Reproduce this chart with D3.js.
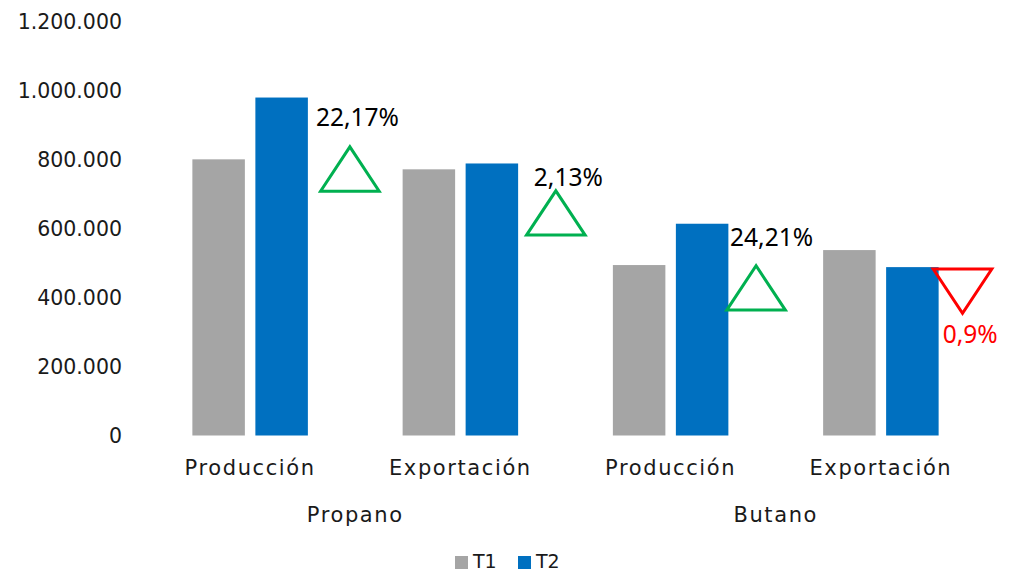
<!DOCTYPE html>
<html>
<head>
<meta charset="utf-8">
<script src="https://cdn.jsdelivr.net/npm/d3@7/dist/d3.min.js"></script>
<style>
  html, body { margin: 0; padding: 0; background: #fff; }
  svg text { font-family: "DejaVu Sans", sans-serif; fill: #1a1a1a; }
  .pct { font-family: "Noto Sans", "Open Sans", sans-serif; }
</style>
</head>
<body>
<svg id="chart" width="1017" height="573"></svg>
<script>
// ── Data ──────────────────────────────────────────────────────────────────────
const groups     = ['Propano', 'Butano'];
const metrics    = ['Producción', 'Exportación'];
const series     = ['T1', 'T2'];
const t1Values   = [802000, 773000, 495000, 538500];
const t2Values   = [981500, 790000, 615000, 489000];
const yTicks     = [0, 200000, 400000, 600000, 800000, 1000000, 1200000];

// change markers (hand-placed shapes in the original)
const changeText  = ['22,17%', '2,13%', '24,21%', '0,9%'];
const changeUp    = [true, true, true, false];
const markerLevel = [709700, 582000, 364300, 483300];   // triangle base value
const labelLevel  = [925400, 753300, 577100, 296700];   // label centre value

// ── Config ────────────────────────────────────────────────────────────────────
const COLORS   = { T1: '#A5A5A5', T2: '#0070C0' };
const UP_COL   = '#00B050';
const DOWN_COL = '#FF0000';
const TRI_W    = 58.6;
const TRI_H    = 44.3;
const MARK_DX  = [12.7, 8.4, -1.6, -5.4];   // triangle nudge from T2 bar edge
const LABEL_DX = [-4.7, 7.3, 3.3, 9.4];     // label nudge from triangle edge

const svg = d3.select('#chart');

// categories = group × metric
const cats = [];
groups.forEach(g => metrics.forEach(m => cats.push({ key: g + '|' + m, group: g, metric: m })));
cats.forEach((c, i) => { c.T1 = t1Values[i]; c.T2 = t2Values[i]; });

// ── Scales ────────────────────────────────────────────────────────────────────
const x0 = d3.scaleBand().domain(cats.map(c => c.key)).range([145, 986]);
const bw0 = x0.bandwidth();
const x1 = d3.scaleBand().domain(series)
  .range([bw0 / 2 - 57.75, bw0 / 2 + 57.75])
  .paddingInner(0.1667);
const y = d3.scaleLinear().domain([0, 1200000]).range([435.5, 22.3]);

const fmt = d3.formatLocale({ decimal: ',', thousands: '.', grouping: [3], currency: ['', ''] }).format(',d');

// ── Y axis labels ─────────────────────────────────────────────────────────────
svg.append('g').selectAll('text')
  .data(yTicks)
  .join('text')
  .attr('x', 122)
  .attr('y', d => y(d))
  .attr('text-anchor', 'end')
  .attr('dominant-baseline', 'central')
  .attr('font-size', 20.5)
  .text(d => fmt(d));

// ── Bars ──────────────────────────────────────────────────────────────────────
const catG = svg.append('g').selectAll('g')
  .data(cats)
  .join('g')
  .attr('transform', c => `translate(${x0(c.key)},0)`);

catG.selectAll('rect')
  .data(c => series.map(s => ({ s, v: c[s] })))
  .join('rect')
  .attr('x', d => x1(d.s))
  .attr('y', d => y(d.v))
  .attr('width', x1.bandwidth())
  .attr('height', d => y(0) - y(d.v))
  .attr('fill', d => COLORS[d.s]);

// ── Category labels ───────────────────────────────────────────────────────────
svg.append('g').selectAll('text')
  .data(cats)
  .join('text')
  .attr('x', c => x0(c.key) + bw0 / 2)
  .attr('y', 468)
  .attr('text-anchor', 'middle')
  .attr('dominant-baseline', 'central')
  .attr('font-size', 21)
  .attr('letter-spacing', 1.6)
  .text(c => c.metric);

svg.append('g').selectAll('text')
  .data(groups)
  .join('text')
  .attr('x', g => {
    const ks = cats.filter(c => c.group === g).map(c => x0(c.key) + bw0 / 2);
    return d3.mean(ks);
  })
  .attr('y', 515)
  .attr('text-anchor', 'middle')
  .attr('dominant-baseline', 'central')
  .attr('font-size', 21)
  .attr('letter-spacing', 1.6)
  .text(g => g);

// ── Change markers ────────────────────────────────────────────────────────────
const marks = svg.append('g').selectAll('g')
  .data(cats)
  .join('g');

marks.append('path')
  .attr('d', (c, i) => {
    const left = x0(c.key) + x1('T2') + x1.bandwidth() + MARK_DX[i];
    const base = y(markerLevel[i]);
    const tip  = changeUp[i] ? base - TRI_H : base + TRI_H;
    return `M${left},${base}L${left + TRI_W},${base}L${left + TRI_W / 2},${tip}Z`;
  })
  .attr('fill', 'none')
  .attr('stroke', (c, i) => changeUp[i] ? UP_COL : DOWN_COL)
  .attr('stroke-width', 3)
  .attr('stroke-linejoin', 'miter');

marks.append('text')
  .attr('class', 'pct')
  .attr('x', (c, i) => x0(c.key) + x1('T2') + x1.bandwidth() + MARK_DX[i] + LABEL_DX[i])
  .attr('y', (c, i) => y(labelLevel[i]))
  .attr('dominant-baseline', 'central')
  .attr('font-size', 24.5)
  .style('fill', (c, i) => changeUp[i] ? '#000' : DOWN_COL)
  .text((c, i) => changeText[i]);

// ── Legend ────────────────────────────────────────────────────────────────────
const legend = svg.append('g').selectAll('g')
  .data(series)
  .join('g')
  .attr('transform', (s, i) => `translate(${455 + i * 63},561)`);

legend.append('rect')
  .attr('x', 0).attr('y', -5)
  .attr('width', 13).attr('height', 13)
  .attr('fill', s => COLORS[s]);

legend.append('text')
  .attr('x', 18)
  .attr('y', 0)
  .attr('dominant-baseline', 'central')
  .attr('font-size', 19)
  .text(s => s);
</script>
</body>
</html>
